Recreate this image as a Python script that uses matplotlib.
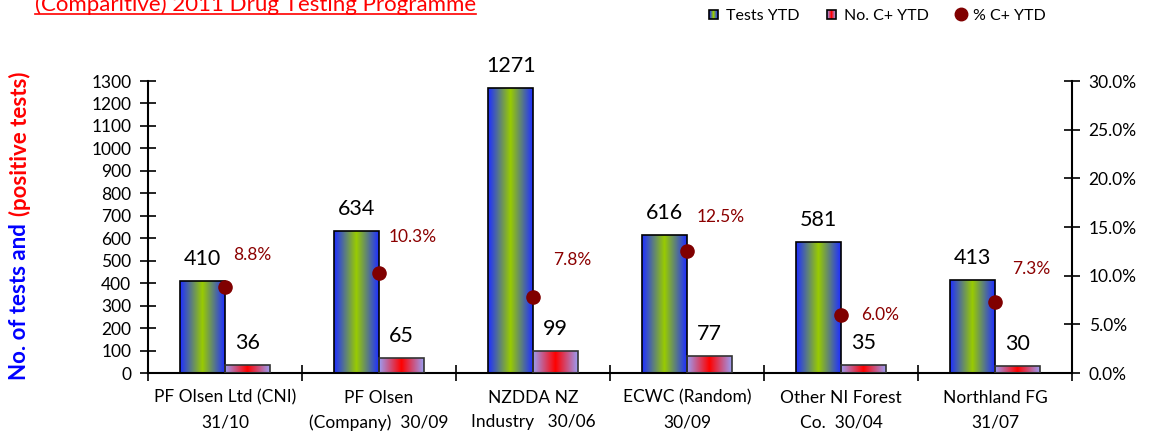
import numpy as np
import matplotlib
matplotlib.use('Agg')
import matplotlib.pyplot as plt
from matplotlib.colors import to_rgb
from matplotlib.patches import Rectangle
from matplotlib.legend_handler import HandlerBase
from matplotlib.ticker import PercentFormatter

plt.rcParams['font.family'] = ['Lato', 'DejaVu Sans']

categories = ['PF Olsen Ltd (CNI)\n31/10', 'PF Olsen\n(Company)  30/09',
              'NZDDA NZ\nIndustry   30/06', 'ECWC (Random)\n30/09',
              'Other NI Forest\nCo.  30/04', 'Northland FG\n31/07']
tests_ytd = [410, 634, 1271, 616, 581, 413]
pos_ytd = [36, 65, 99, 77, 35, 30]
pct_ytd = [8.8, 10.3, 7.8, 12.5, 6.0, 7.3]

# label offsets (pixels) for the percentage labels
pct_offsets = [(8, 32), (10, 36), (20, 37), (10, 34), (20, 0), (17, 33)]

TESTS_COLS = ('#1f2fff', '#99cc00')
POS_COLS = ('#9c9cf0', '#ff0000')
DOT_COL = '#800000'


def gradient(c_edge, c_mid, n=64):
    t = np.abs(np.linspace(0, 1, n) - 0.5) * 2
    a, b = np.array(to_rgb(c_edge)), np.array(to_rgb(c_mid))
    row = b[None, :] * (1 - t[:, None]) + a[None, :] * t[:, None]
    return row[None, :, :]


def fill_bars(ax, bars, cols):
    img = gradient(*cols)
    for b in bars:
        x0, w, h = b.get_x(), b.get_width(), b.get_height()
        im = ax.imshow(img, extent=(x0, x0 + w, 0, h), aspect='auto',
                       interpolation='bilinear', zorder=2)
        im.set_clip_path(b)


class GradHandler(HandlerBase):
    def __init__(self, cols):
        super().__init__()
        self.cols = cols

    def create_artists(self, legend, orig, xd, yd, width, height, fontsize, trans):
        s = height * 0.8
        x0 = xd + (width - s) / 2
        y0 = yd + (height - s) / 2
        img = gradient(*self.cols, n=9)[0]
        arts = []
        for i, c in enumerate(img):
            arts.append(Rectangle((x0 + i * s / 9, y0), s / 9, s, facecolor=c,
                                  edgecolor='none', transform=trans))
        arts.append(Rectangle((x0, y0), s, s, facecolor='none',
                              edgecolor='black', lw=1.2, transform=trans))
        return arts


fig = plt.figure(figsize=(11.5, 4.34), dpi=100)
ax = fig.add_axes([148 / 1150, 1 - 373 / 434, (1072 - 148) / 1150, (373 - 81) / 434])
x = np.arange(len(categories))
w = 0.29

b1 = ax.bar(x - w / 2, tests_ytd, w, facecolor='none', edgecolor='black', lw=1.2, zorder=3)
b2 = ax.bar(x + w / 2, pos_ytd, w, facecolor='none', edgecolor='#333333', lw=1.2, zorder=3)
fill_bars(ax, b1, TESTS_COLS)
fill_bars(ax, b2, POS_COLS)

for xi, v in zip(x, tests_ytd):
    ax.annotate(str(v), (xi - w / 2, v), xytext=(0, 12), textcoords='offset pixels',
                ha='center', va='bottom', fontsize=15.5)
for xi, v in zip(x, pos_ytd):
    ax.annotate(str(v), (xi + w / 2, v), xytext=(0, 12), textcoords='offset pixels',
                ha='center', va='bottom', fontsize=15.5)

ax.set_xlim(-0.5, len(categories) - 0.5)
ax.set_ylim(0, 1300)
ax.set_yticks(range(0, 1301, 100))
ax.set_xticks(np.arange(-0.5, len(categories)), labels=[''] * (len(categories) + 1))
ax.set_xticks(x, labels=categories, minor=True)
ax.tick_params(axis='x', which='major', direction='inout', length=12, width=1.2)
ax.tick_params(axis='x', which='minor', length=0, pad=12, labelsize=12.5)
ax.tick_params(axis='y', direction='inout', length=12, width=1.2, labelsize=12.5, pad=6)
for t in ax.get_xticklabels(minor=True):
    t.set_linespacing(1.65)
ax.spines[['top', 'right']].set_visible(False)
ax.spines[['left', 'bottom']].set_linewidth(1.5)

ax2 = ax.twinx()
ax2.set_ylim(0, 0.30)
ax2.set_yticks(np.arange(0, 0.301, 0.05))
ax2.yaxis.set_major_formatter(PercentFormatter(1.0, decimals=1))
ax2.tick_params(axis='y', direction='inout', length=12, width=1.2, labelsize=12.5, pad=6)
ax2.spines[['top', 'left', 'bottom']].set_visible(False)
ax2.spines['right'].set_linewidth(1.5)
pct = np.array(pct_ytd) / 100
ax2.scatter(x, pct, s=90, color=DOT_COL, zorder=5, clip_on=False)
for xi, p, (dx, dy) in zip(x, pct, pct_offsets):
    ax2.annotate(f'{p * 100:.1f}%', (xi, p), xytext=(dx, dy), textcoords='offset pixels',
                 ha='left', va='center', fontsize=12.5, color='#8b0000')

# title (cut at the top like the original)
title = fig.text(35 / 1150, 1 - 11 / 434, '(Comparitive) 2011 Drug Testing Programme',
                 color='#ff0000', fontsize=16, ha='left', va='baseline')

# y label in two colours
blue = fig.text(20 / 1150, 1 - 380 / 434, 'No. of tests and', rotation=90, color='#0000ff',
                fontsize=16, fontweight='bold', ha='center', va='bottom')
fig.canvas.draw()
r = fig.canvas.get_renderer()
bb = blue.get_window_extent(r)
fig.text(20 / 1150, (bb.y1 + 7) / fig.bbox.height, '(positive tests)', rotation=90,
         color='#ff0000', fontsize=16, fontweight='bold', ha='center', va='bottom')
tb = title.get_window_extent(r)
fig.add_artist(plt.Line2D([tb.x0 / fig.bbox.width, tb.x1 / fig.bbox.width],
                          [1 - 13.5 / 434] * 2, color='#ff0000', lw=1.2))

h1 = Rectangle((0, 0), 1, 1)
h2 = Rectangle((0, 0), 1, 1)
h3 = plt.Line2D([], [], marker='o', ls='none', color=DOT_COL, markersize=9)
fig.legend([h1, h2, h3], ['Tests YTD', 'No. C+ YTD', '% C+ YTD'], ncol=3, frameon=False,
           loc='center left', bbox_to_anchor=(700 / 1150, 1 - 16 / 434), fontsize=11.5,
           handler_map={h1: GradHandler(TESTS_COLS), h2: GradHandler(POS_COLS)},
           handlelength=0.9, handletextpad=0.3, columnspacing=1.6, borderaxespad=0)

fig.savefig('out.png', dpi=100)
